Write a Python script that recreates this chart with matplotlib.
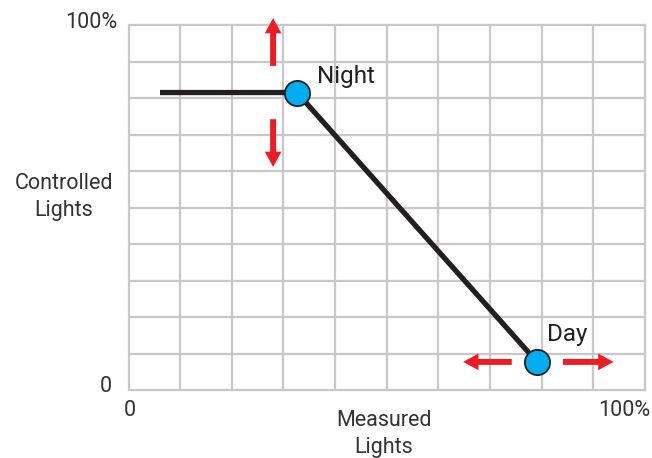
import matplotlib
matplotlib.use("Agg")
import matplotlib.pyplot as plt

# Data
curve_x = [6.1, 32.6, 79.1]
curve_y = [81.5, 81.5, 7.7]
point_labels = ["Night", "Day"]
point_x = [32.6, 79.1]
point_y = [81.5, 7.7]
grid_ticks = [0, 10, 20, 30, 40, 50, 60, 70, 80, 90, 100]
# arrows: (tail_x, tail_y, tip_x, tip_y)
arrows = [
    (28.0, 88.8, 28.0, 101.9),
    (28.0, 74.2, 28.0, 61.1),
    (74.2, 7.7, 64.8, 7.7),
    (84.1, 7.7, 93.9, 7.7),
]

plt.rcParams['font.family'] = ['Roboto', 'DejaVu Sans']

fig = plt.figure(figsize=(6.52, 4.58), dpi=100)
ax = fig.add_axes([128.5/652, 68/458, 516.5/652, 365/458])
ax.set_xlim(0, 100)
ax.set_ylim(0, 100)
for s in ax.spines.values():
    s.set_visible(False)
ax.set_xticks([])
ax.set_yticks([])

grid_color = '#c8c8c8'
for t in grid_ticks:
    ax.axvline(t, color=grid_color, lw=1.6, zorder=1, clip_on=False)
    ax.axhline(t, color=grid_color, lw=1.6, zorder=1, clip_on=False)

ax.plot(curve_x, curve_y, color='#231f20', lw=3.8, solid_capstyle='butt', zorder=3)
ax.scatter(point_x, point_y, s=330, color='#00aeef', edgecolor='#231f20',
           linewidths=1.3, zorder=4)

for (tx, ty, hx, hy) in arrows:
    ax.annotate("", xy=(hx, hy), xytext=(tx, ty),
                arrowprops=dict(arrowstyle='simple,head_length=11,head_width=12,tail_width=4.3',
                                mutation_scale=1, color='#ed1c24', shrinkA=0, shrinkB=0, lw=0),
                annotation_clip=False, zorder=5)

txt_color = '#231f20'
ax.text(36.4, 86.0, point_labels[0], fontsize=17.5, color=txt_color, ha='left', va='center')
ax.text(81.0, 15.2, point_labels[1], fontsize=17.5, color=txt_color, ha='left', va='center')

lab_color = '#333333'
fig.text(117/652, 1 - 22/458, "100%", fontsize=15.5, color=lab_color, ha='right', va='center')
fig.text(64/652, 1 - 197/458, "Controlled\nLights", fontsize=15.5, color=lab_color,
         ha='center', va='center', linespacing=1.4)
fig.text(112/652, 1 - 387/458, "0", fontsize=15.5, color=lab_color, ha='right', va='center')
fig.text(130/652, 1 - 411/458, "0", fontsize=15.5, color=lab_color, ha='center', va='center')
fig.text(624/652, 1 - 411/458, "100%", fontsize=15.5, color=lab_color, ha='center', va='center')
fig.text(384/652, 1 - 434/458, "Measured\nLights", fontsize=15.5, color=lab_color,
         ha='center', va='center', linespacing=1.4)

fig.savefig("out.png", dpi=100)
